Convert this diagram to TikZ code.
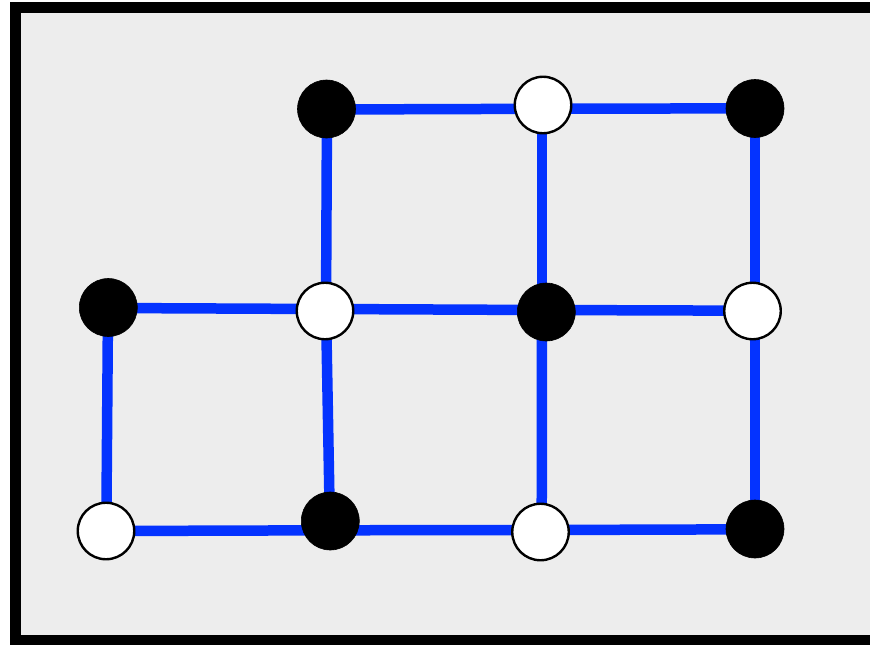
\documentclass[tikz,border=0pt]{standalone}
\definecolor{bggray}{RGB}{237,237,237}
\definecolor{edgeblue}{RGB}{4,51,255}
\tikzset{
  bnode/.style={circle,fill=black,draw=black,line width=0.6pt,minimum size=58pt,inner sep=0pt},
  wnode/.style={circle,fill=white,draw=black,line width=2.4pt,minimum size=56.5pt,inner sep=0pt},
  link/.style={draw=edgeblue,line width=10.5pt}
}
\begin{document}
\begin{tikzpicture}[x=1pt,y=-1pt]
\useasboundingbox (0,0) rectangle (870,645);
\clip (0,0) rectangle (870,645);
\fill[white] (0,0) rectangle (870,645);
\draw[fill=bggray,line width=11pt] (15.5,7) rectangle (885,640.5);
% junction points of the blue lines
\coordinate (jt1) at (327,109.5);
\coordinate (jt2) at (542,108.8);
\coordinate (jt3) at (755,108.3);
\coordinate (jm0) at (108,308);
\coordinate (jm1) at (326,309);
\coordinate (jm2) at (542,310);
\coordinate (jm3) at (755,310.7);
\coordinate (jb0) at (106.3,531);
\coordinate (jb1) at (330,530.3);
\coordinate (jb2) at (541.7,530);
\coordinate (jb3) at (755,529.3);
% edges
\path[link] (jt1) -- (jt2) -- (jt3);
\path[link] (jt1) -- (jm1);
\path[link] (jt2) -- (jm2);
\path[link] (jt3) -- (jm3);
\path[link] (jm0) -- (jm1) -- (jm2) -- (jm3);
\path[link] (jm0) -- (jb0);
\path[link] (jm1) -- (jb1);
\path[link] (jm2) -- (jb2);
\path[link] (jm3) -- (jb3);
\path[link] (jb0) -- (jb1) -- (jb2) -- (jb3);
% nodes
\node[bnode] (t1) at (326.5,109) {};
\node[wnode] (t2) at (543,105) {};
\node[bnode] (t3) at (755,108.5) {};
\node[bnode] (m0) at (108.3,307.5) {};
\node[wnode] (m1) at (325,311) {};
\node[bnode] (m2) at (546.3,312) {};
\node[wnode] (m3) at (752.5,311) {};
\node[wnode] (b0) at (106,531) {};
\node[bnode] (b1) at (330.3,521) {};
\node[wnode] (b2) at (540.5,532) {};
\node[bnode] (b3) at (755,529) {};
\end{tikzpicture}
\end{document}
